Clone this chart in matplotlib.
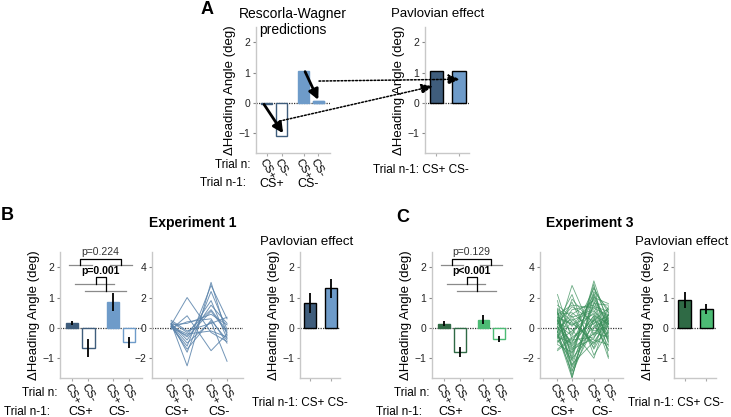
import numpy as np
import matplotlib
matplotlib.use("Agg")
import matplotlib.pyplot as plt

plt.rcParams['font.family'] = ['Liberation Sans', 'DejaVu Sans']

# ---- data ----
positions = [1, 2, 3.5, 4.5]
trial_n_labels = ['CS+', 'CS-', 'CS+', 'CS-']
trial_n1_labels = ['CS+', 'CS-']

# panel A: Rescorla-Wagner predictions and Pavlovian effect
rw_pred = [-0.05, -1.1, 1.05, 0.05]
rw_pavlov = [1.05, 1.05]

# experiment 1
exp1_means = [0.17, -0.67, 0.85, -0.48]
exp1_sem = [0.06, 0.30, 0.30, 0.18]
exp1_pavlov = [0.82, 1.30]
exp1_pavlov_sem = [0.32, 0.30]
exp1_subjects = [
    [0.3, -2.5, 3.0, -0.5],
    [0.2, 2.0, -0.3, -0.9],
    [0.1, -1.2, 2.8, 0.6],
    [0.4, -0.3, 1.2, -0.2],
    [0.0, -0.5, 1.8, -0.7],
    [0.2, -1.0, 0.4, -2.2],
    [-0.1, 0.8, -1.5, -0.4],
    [0.3, -0.8, 1.5, 0.3],
    [0.1, -1.4, 0.5, -0.8],
    [0.5, -0.2, 0.3, 0.7],
    [0.2, -0.6, 1.1, -0.3],
    [0.0, 0.4, 0.6, -1.0],
    [0.3, -1.6, 2.4, -0.1],
    [0.1, -0.4, -0.2, -0.6],
    [0.2, 0.3, 0.9, 0.2],
]

# experiment 3
exp3_means = [0.14, -0.80, 0.27, -0.38]
exp3_sem = [0.09, 0.16, 0.14, 0.10]
exp3_pavlov = [0.92, 0.63]
exp3_pavlov_sem = [0.25, 0.17]
exp3_subjects = [
    [0.5, -1.2, 0.8, 0.3], [-0.3, 2.8, -0.5, 1.2], [1.2, -3.3, 2.1, -0.4],
    [0.0, 0.6, -1.1, 0.9], [-0.8, -2.1, 3.1, 0.2], [0.3, 1.4, 0.4, -1.5],
    [2.2, -0.8, -0.6, 0.5], [-0.5, -2.9, 1.6, 1.5], [0.7, 0.2, 0.9, -0.8],
    [-1.1, -1.6, 0.1, 0.6], [0.4, 2.2, -1.8, -0.2], [1.0, -0.4, 2.6, 1.0],
    [-0.2, -3.1, 0.6, -1.2], [0.9, 1.0, -0.2, 0.1], [-0.6, -1.0, 2.0, 1.6],
    [0.1, -2.4, -0.9, 0.4], [1.5, 0.7, 1.2, -0.6], [-1.4, -0.6, 0.3, 0.8],
    [0.6, -1.9, 2.9, -1.9], [0.2, 1.7, -1.4, 0.3], [-0.9, -0.2, 1.0, -0.5],
    [1.1, -2.6, 0.5, 1.3], [-0.1, 0.9, 1.8, -1.0], [0.8, -1.3, -0.4, 0.7],
    [-0.4, -3.3, 2.3, 0.0], [1.3, 0.4, -1.0, -0.3], [0.0, -0.9, 1.4, 1.1],
    [-0.7, 1.9, 0.2, -1.4], [0.5, -1.7, 2.7, 0.5], [0.3, -0.1, -2.0, 0.9],
    [1.8, -2.2, 0.7, -0.7], [-1.0, 0.5, 1.1, 0.2], [0.4, -1.4, -0.7, 1.4],
    [-0.3, 1.2, 1.5, -0.9], [1.0, -2.8, 0.0, 0.6], [0.2, -0.5, 2.2, -0.1],
    [-0.6, 0.8, -1.3, 1.0], [0.6, -1.1, 0.8, -2.0], [1.2, 0.1, 1.9, 0.4],
    [-0.2, -2.0, -0.3, -0.6], [0.9, 1.5, 1.3, 0.8], [-1.5, -0.7, 0.5, -0.2],
    [0.1, -1.5, 2.4, 1.2], [0.7, 0.3, -0.8, -1.1], [-0.4, -2.5, 1.7, 0.3],
]

blue_dark, blue_light = '#3f5d7c', '#6e9bc9'
green_dark, green_light = '#2f6a45', '#4cbb74'
spine_gray = '#c8c8c8'

W, H = 731, 417
fig = plt.figure(figsize=(W / 100, H / 100), dpi=100)


def px_axes(x0, x1, y0, y1):
    return fig.add_axes([x0 / W, 1 - y1 / H, (x1 - x0) / W, (y1 - y0) / H])


def style(ax, yticks, ylim, xlim, ylabel=True):
    for s in ['top', 'right']:
        ax.spines[s].set_visible(False)
    for s in ['left', 'bottom']:
        ax.spines[s].set_color(spine_gray)
        ax.spines[s].set_linewidth(1)
    ax.set_ylim(ylim)
    ax.set_xlim(xlim)
    ax.set_yticks(yticks)
    ax.tick_params(axis='y', colors='#888888', labelcolor='#222222', labelsize=7.5, length=2, pad=2)
    ax.tick_params(axis='x', colors='#aaaaaa', length=2, labelbottom=False)
    ax.axhline(0, color='#333333', lw=0.9, ls=(0, (1, 1)), zorder=1)
    if ylabel:
        ax.set_ylabel('\u0394Heading Angle (deg)', fontsize=9.5, labelpad=2)


def rotated_labels(ax, xs):
    for x, lab in zip(xs, trial_n_labels):
        ax.annotate(lab, xy=(x, 0), xycoords=('data', 'axes fraction'), xytext=(0, -3),
                    textcoords='offset points', rotation=-60, ha='center', va='top',
                    fontsize=8, annotation_clip=False)


def bar_panel(ax, means, sem, dark, light):
    fills = [dark, 'white', light, 'white']
    edges = [dark, dark, light, light]
    ax.bar(positions, means, width=0.75, color=fills, edgecolor=edges, linewidth=1, zorder=2)
    if sem is not None:
        ax.errorbar(positions, means, yerr=sem, fmt='none', ecolor='black', elinewidth=1.3, capsize=0, zorder=3)
    style(ax, [-1, 0, 1, 2], (-1.65, 2.5), (0.25, 5.3))
    ax.set_xticks(positions)
    rotated_labels(ax, positions)


def pavlov_panel(ax, vals, sem, dark, light, ylabel=True):
    ax.bar([1, 2], vals, width=0.6, color=[dark, light], edgecolor='black', linewidth=1, zorder=2)
    if sem is not None:
        ax.errorbar([1, 2], vals, yerr=sem, fmt='none', ecolor='black', elinewidth=1.3, capsize=0, zorder=3)
    style(ax, [-1, 0, 1, 2], (-1.65, 2.5), (0.5, 2.45), ylabel)
    ax.set_xticks([1, 2])


def lines_panel(ax, subjects, color, lw, alpha):
    for s in subjects:
        ax.plot(positions, s, color=color, lw=lw, alpha=alpha, zorder=2)
    style(ax, [-2, 0, 2, 4], (-3.3, 5.0), (-0.2, 5.5), ylabel=False)
    ax.set_xticks(positions)
    rotated_labels(ax, positions)


def brackets(ax, p_top, p_bottom):
    g = '#8a8a8a'
    ax.plot([0.8, 2.2], [2.07, 2.07], color=g, lw=0.9, clip_on=False)
    ax.plot([3.3, 4.7], [2.07, 2.07], color=g, lw=0.9, clip_on=False)
    ax.plot([1.5, 1.5, 4.0, 4.0], [2.07, 2.27, 2.27, 2.07], color='black', lw=0.9, clip_on=False)
    ax.text(2.75, 2.5, p_top, ha='center', va='center', fontsize=7.5, color='#333333')
    ax.plot([1.2, 3.6], [1.43, 1.43], color=g, lw=0.9, clip_on=False)
    ax.plot([1.8, 4.3], [1.23, 1.23], color=g, lw=0.9, clip_on=False)
    ax.plot([2.45, 2.45, 3.1, 3.1], [1.43, 1.67, 1.67, 1.23], color='black', lw=0.9, clip_on=False)
    ax.text(2.75, 1.88, p_bottom, ha='center', va='center', fontsize=7.5, fontweight='bold')


def ftext(x, y, s, **kw):
    fig.text(x / W, 1 - y / H, s, **kw)


# ---- panel A ----
axA1 = px_axes(256, 330, 27, 153)
bar_panel(axA1, rw_pred, None, blue_dark, blue_light)
axA1.bar([4.5], [rw_pred[3]], width=0.75, color=blue_light, edgecolor=blue_light, zorder=2)
axA2 = px_axes(425, 469, 27, 153)
pavlov_panel(axA2, rw_pavlov, None, blue_dark, blue_light)

arrow_kw = dict(arrowstyle='-|>,head_length=0.6,head_width=0.3', color='black', lw=2,
                shrinkA=0, shrinkB=0)
axA1.annotate('', xy=(2.1, -1.0), xytext=(0.8, -0.05), arrowprops=arrow_kw, zorder=5)
axA1.annotate('', xy=(4.5, 0.1), xytext=(3.6, 1.03), arrowprops=arrow_kw, zorder=5)

dot_kw = dict(arrowstyle='-|>,head_length=0.7,head_width=0.3', color='black', lw=1.1,
              ls=(0, (1.2, 1.2)), shrinkA=0, shrinkB=0)
axA2.annotate('', xy=(0.85, 0.55), xycoords=axA2.transData, xytext=(1.85, -0.6),
              textcoords=axA1.transData, arrowprops=dot_kw, annotation_clip=False)
axA2.annotate('', xy=(2.05, 0.78), xycoords=axA2.transData, xytext=(4.55, 0.72),
              textcoords=axA1.transData, arrowprops=dot_kw, annotation_clip=False)

ftext(207, 10, 'A', fontsize=13, fontweight='bold', ha='center', va='center')
ftext(293, 22, 'Rescorla-Wagner\npredictions', fontsize=10, ha='center', va='center', linespacing=1.15)
ftext(438, 14, 'Pavlovian effect', fontsize=9.5, ha='center', va='center')
ftext(250, 165, 'Trial n:', fontsize=8.5, ha='right', va='center')
ftext(200, 183, 'Trial n-1:', fontsize=8.5, ha='left', va='center')
ftext(272, 184, 'CS+', fontsize=9, ha='center', va='center')
ftext(308, 184, 'CS-', fontsize=9, ha='center', va='center')
ftext(421, 170, 'Trial n-1: CS+ CS-', fontsize=8.5, ha='center', va='center')

# ---- panel B ----
axB1 = px_axes(60, 142, 252, 378)
bar_panel(axB1, exp1_means, exp1_sem, blue_dark, blue_light)
brackets(axB1, 'p=0.224', 'p=0.001')
axB2 = px_axes(152, 243, 252, 378)
lines_panel(axB2, exp1_subjects, '#5a83ab', 0.7, 0.85)
axB3 = px_axes(300, 340, 252, 378)
pavlov_panel(axB3, exp1_pavlov, exp1_pavlov_sem, blue_dark, blue_light)

ftext(7, 215, 'B', fontsize=13, fontweight='bold', ha='center', va='center')
ftext(193, 223, 'Experiment 1', fontsize=10, fontweight='bold', ha='center', va='center')
ftext(307, 242, 'Pavlovian effect', fontsize=9.5, ha='center', va='center')
ftext(58, 393, 'Trial n:', fontsize=8.5, ha='right', va='center')
ftext(4, 412, 'Trial n-1:', fontsize=8.5, ha='left', va='center')
ftext(81, 412, 'CS+', fontsize=9, ha='center', va='center')
ftext(119, 412, 'CS-', fontsize=9, ha='center', va='center')
ftext(177, 412, 'CS+', fontsize=9, ha='center', va='center')
ftext(219, 412, 'CS-', fontsize=9, ha='center', va='center')
ftext(300, 403, 'Trial n-1: CS+ CS-', fontsize=8.5, ha='center', va='center')

# ---- panel C ----
axC1 = px_axes(432, 512, 252, 378)
bar_panel(axC1, exp3_means, exp3_sem, green_dark, green_light)
brackets(axC1, 'p=0.129', 'p<0.001')
axC2 = px_axes(540, 623, 252, 378)
lines_panel(axC2, exp3_subjects, '#3a8f5a', 0.6, 0.75)
axC3 = px_axes(674, 716, 252, 378)
pavlov_panel(axC3, exp3_pavlov, exp3_pavlov_sem, green_dark, green_light)

ftext(403, 217, 'C', fontsize=13, fontweight='bold', ha='center', va='center')
ftext(590, 223, 'Experiment 3', fontsize=10, fontweight='bold', ha='center', va='center')
ftext(682, 242, 'Pavlovian effect', fontsize=9.5, ha='center', va='center')
ftext(430, 393, 'Trial n:', fontsize=8.5, ha='right', va='center')
ftext(376, 412, 'Trial n-1:', fontsize=8.5, ha='left', va='center')
ftext(451, 412, 'CS+', fontsize=9, ha='center', va='center')
ftext(491, 412, 'CS-', fontsize=9, ha='center', va='center')
ftext(563, 412, 'CS+', fontsize=9, ha='center', va='center')
ftext(602, 412, 'CS-', fontsize=9, ha='center', va='center')
ftext(676, 403, 'Trial n-1: CS+ CS-', fontsize=8.5, ha='center', va='center')

fig.savefig('out.png', dpi=100)
